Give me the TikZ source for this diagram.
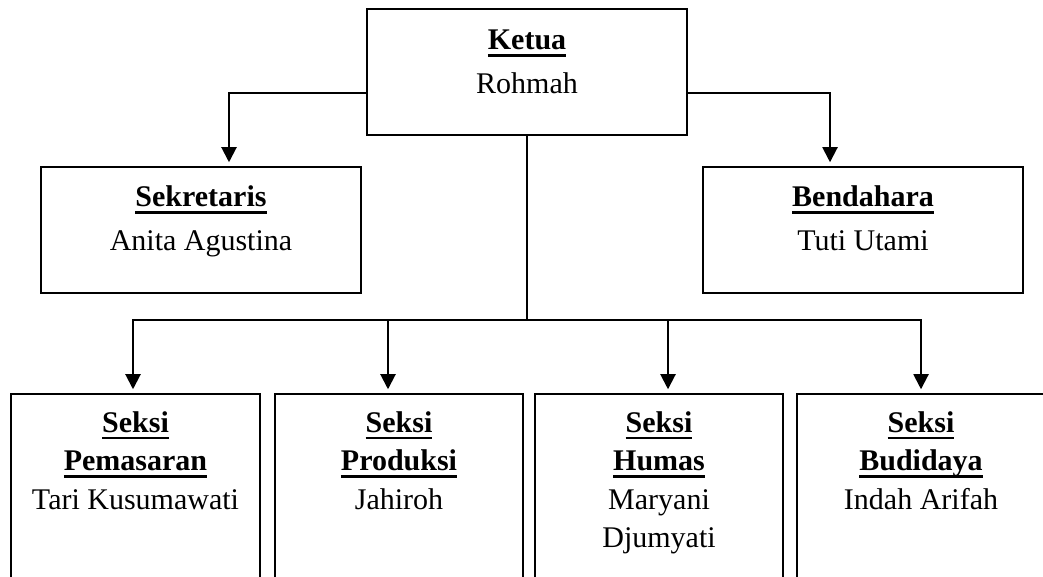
\documentclass[tikz,border=0pt]{standalone}
\usepackage{fontspec}
\setmainfont{Liberation Serif}
\usetikzlibrary{arrows.meta,positioning}

\newcommand{\jabatan}[1]{\setbox0\hbox{\textbf{#1}}\rlap{\rule[-2.9pt]{\wd0}{1.1pt}}\box0}

\tikzset{
  kotak/.style={draw,line width=0.8pt,minimum width=128pt,minimum height=50.4pt,inner sep=0pt},
  seksi/.style={draw,line width=0.8pt,minimum width=99.2pt,minimum height=82.8pt,inner sep=0pt,anchor=north},
  isi/.style={align=center,anchor=base,inner sep=0pt,font=\fontsize{12}{17.6}\selectfont},
  isibawah/.style={isi,font=\fontsize{12}{15.4}\selectfont},
  panah/.style={line width=0.8pt,-{Triangle[width=6pt,length=6pt]},shorten >=1.5pt},
  garis/.style={line width=0.8pt}
}

\begin{document}
\begin{tikzpicture}[x=0.4pt,y=-0.4pt]
\useasboundingbox (0,0) rectangle (1043,577);
\clip (0,0) rectangle (1043,577);

% pengurus inti (teks diletakkan pada baris terakhir)
\node[kotak] (ketua) at (527,72) {};
\node[kotak] (sekretaris) at (201,230) {};
\node[kotak] (bendahara) at (863,230) {};
\node[isi] (ketua-t) at (527,94) {\jabatan{Ketua}\\Rohmah};
\node[isi] (sekretaris-t) at (201,251) {\jabatan{Sekretaris}\\Anita Agustina};
\node[isi] (bendahara-t) at (863,251) {\jabatan{Bendahara}\\Tuti Utami};

% seksi-seksi
\node[seksi] (pemasaran) at (135.5,393) {};
\node[seksi] (produksi) at (399,393) {};
\node[seksi] (humas) at (659,393) {};
\node[seksi] (budidaya) at (921,393) {};
\node[isibawah] (pemasaran-t) at (135.5,509) {\jabatan{Seksi}\\\jabatan{Pemasaran}\\Tari Kusumawati};
\node[isibawah] (produksi-t) at (399,509) {\jabatan{Seksi}\\\jabatan{Produksi}\\Jahiroh};
\node[isibawah] (humas-t) at (659,547.5) {\jabatan{Seksi}\\\jabatan{Humas}\\Maryani\\Djumyati};
\node[isibawah] (budidaya-t) at (921,509) {\jabatan{Seksi}\\\jabatan{Budidaya}\\Indah Arifah};

% garis
\draw[panah] ([yshift=-8.4pt]ketua.west) -| ([xshift=11.2pt]sekretaris.north);
\draw[panah] ([yshift=-8.4pt]ketua.east) -| ([xshift=-13.2pt]bendahara.north);
\coordinate (cabang) at (ketua.south |- 0,320);
\draw[garis] (ketua.south) -- (cabang);
\draw[panah] (cabang) -| ([xshift=-1pt]pemasaran.north);
\draw[panah] (cabang) -| ([xshift=-4.4pt]produksi.north);
\draw[panah] (cabang) -| ([xshift=3.6pt]humas.north);
\draw[panah] (cabang) -| (budidaya.north);
\end{tikzpicture}
\end{document}
